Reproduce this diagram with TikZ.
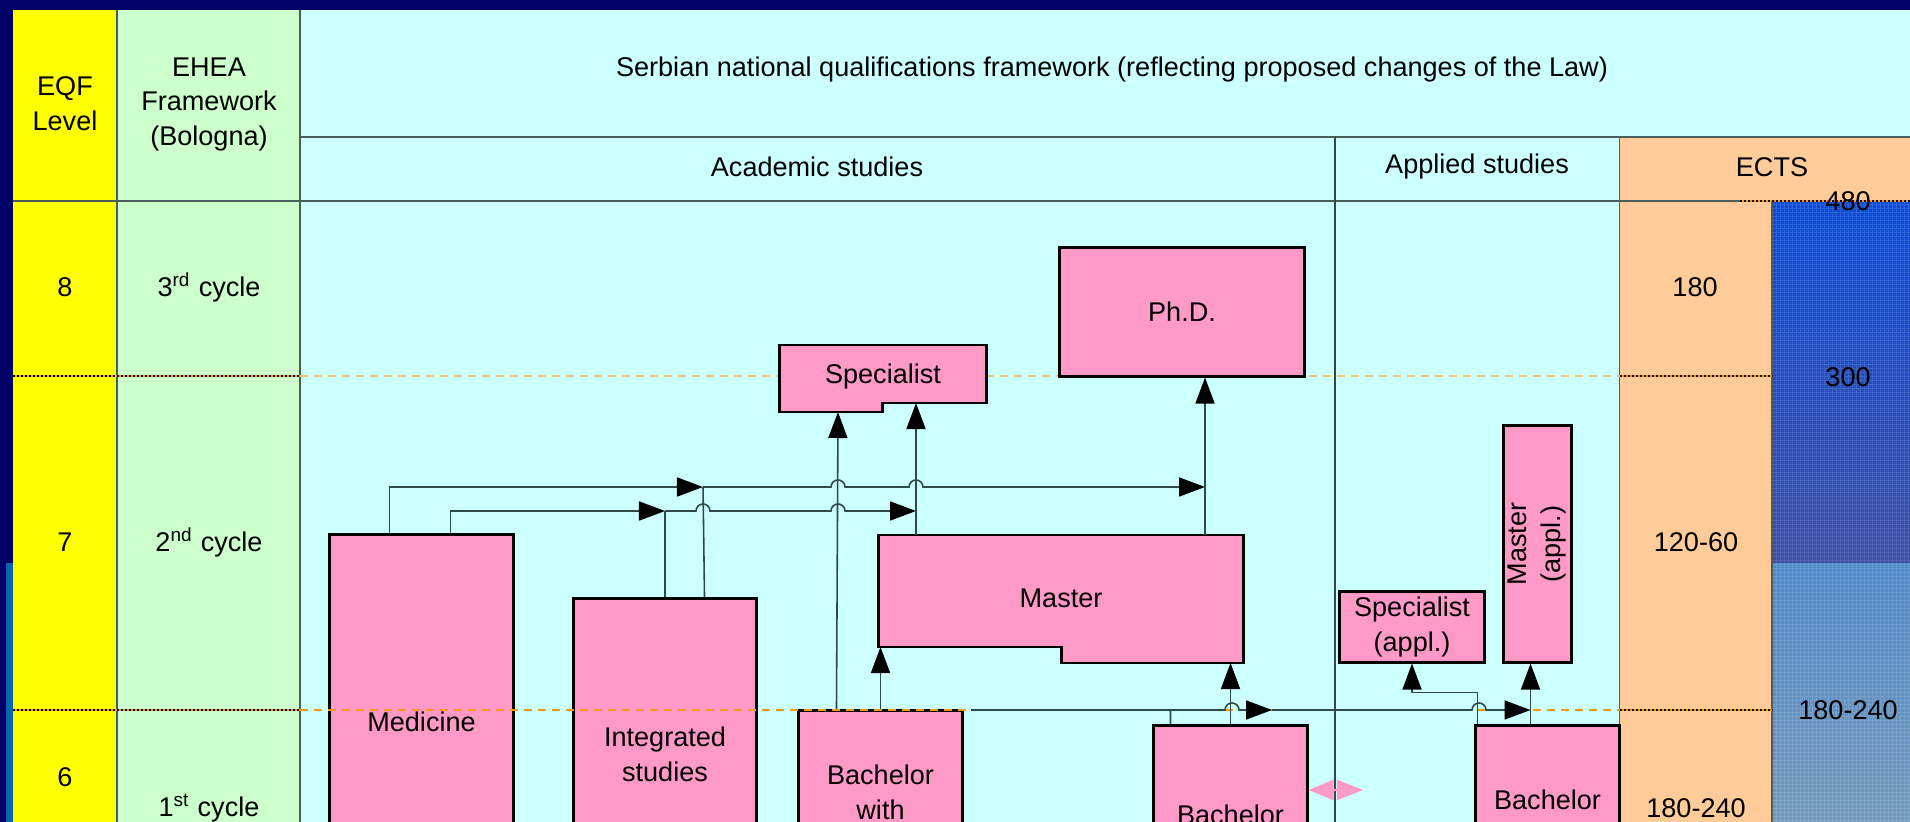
\documentclass[tikz,border=0pt]{standalone}
\usepackage{fontspec}
\setmainfont{Liberation Sans}
\usepackage{tikz}
\usetikzlibrary{arrows.meta}
\definecolor{navy}{HTML}{000066}
\definecolor{stripblue}{HTML}{0A64B4}
\definecolor{eqfyellow}{HTML}{FFFF00}
\definecolor{eheagreen}{HTML}{CCFFCC}
\definecolor{nqfcyan}{HTML}{CCFFFF}
\definecolor{ectsorange}{HTML}{FFCC99}
\definecolor{boxpink}{HTML}{FF99C8}
\definecolor{gridgray}{HTML}{4A5C5C}
\definecolor{linegray}{HTML}{2F4848}
\definecolor{lvlorange}{HTML}{FF9900}
\definecolor{lvlpale}{HTML}{F2C76A}
\definecolor{blueA}{HTML}{0A4CD8}
\definecolor{blueB}{HTML}{3E4EA6}
\definecolor{blueC}{HTML}{4F8ACA}
\definecolor{blueD}{HTML}{7499BC}
\tikzset{
    box/.style={draw=black, line width=0.85pt, fill=boxpink, inner sep=0pt, align=center},
    conn/.style={draw=linegray, line width=0.45pt, >={Triangle[length=0.26cm, width=0.19cm, color=black]}},
    grid/.style={draw=gridgray, line width=0.5pt},
    lvl/.style={dash pattern=on 0.08cm off 0.06cm, line width=0.6pt},
    lvlrule/.style={draw=black, dash pattern=on 0.02cm off 0.02cm, line width=0.4pt},
    txt/.style={align=center, inner sep=0pt},
    pinkarr/.style={draw=boxpink, line width=0.6pt, {Triangle[length=0.25cm, width=0.2cm]}-{Triangle[length=0.26cm, width=0.2cm]}}
}
\begin{document}
\begin{tikzpicture}[x=0.01cm, y=-0.01cm, every node/.style={font=\fontsize{7.7}{9.9}\selectfont}]
    \useasboundingbox (0,0) rectangle (1910,822);
    \clip (0,0) rectangle (1910,822);
    % table background
    \fill[navy] (0,0) rectangle (1910,822);
    \fill[stripblue] (6,563) rectangle (13,822);
    \fill[eqfyellow] (13,10) rectangle (117,822);
    \fill[eheagreen] (117,10) rectangle (300,822);
    \fill[nqfcyan] (300,10) rectangle (1910,137);
    \fill[nqfcyan] (300,137) rectangle (1619.5,822);
    \fill[ectsorange] (1619.5,137) rectangle (1910,822);
    \shade[top color=blueA, bottom color=blueB] (1772,201) rectangle (1910,563);
    \shade[top color=blueC, bottom color=blueD] (1772,563) rectangle (1910,822);
    \draw[white, opacity=0.12, line width=0.2pt, step=0.04cm] (1772,201) grid (1910,822);
    % grid
    \draw[grid] (117,10) -- (117,822);
    \draw[grid] (300,10) -- (300,822);
    \draw[grid] (300,137) -- (1910,137);
    \draw[grid] (13,201) -- (1740,201);
    \draw[grid] (1619.5,137) -- (1619.5,822);
    \draw[grid] (1772,201) -- (1772,822);
    \draw[linegray, line width=0.4pt] (1335,137) -- (1335,822);
    % level lines
    \foreach \y in {376,710} {
        \draw[draw=lvlorange, line width=0.4pt] (13,\y) -- (300,\y);
        \draw[lvlrule] (13,\y) -- (300,\y);
        \draw[draw=lvlorange, line width=0.4pt] (1619.5,\y) -- (1772,\y);
        \draw[lvlrule] (1619.5,\y) -- (1772,\y);
    }
    \draw[draw=lvlorange, line width=0.5pt] (1740,201) -- (1910,201);
    \draw[lvlrule] (1740,201) -- (1910,201);
    \draw[lvl, draw=lvlpale] (300,376) -- (1619.5,376);
    % headers
    \node[txt] (eqf) at (65,103.5) {EQF\\Level};
    \node[txt] (ehea) at (209,104.5) {EHEA\\Framework\\(Bologna)};
    \node (nqf) at (1112,70) {Serbian national qualifications framework (reflecting proposed changes of the Law)};
    \node (acad) at (817,167) {Academic studies};
    \node (appl) at (1477,167) {Applied studies};
    \node (ects) at (1772,167) {ECTS};
    % levels and cycles
    \node (l8) at (65,287) {8};
    \node (l7) at (65,542) {7};
    \node (l6) at (65,777) {6};
    \node (cy3) at (209,287) {3\textsuperscript{rd} cycle};
    \node (cy2) at (209,542) {2\textsuperscript{nd} cycle};
    \node (cy1) at (209,808) {1\textsuperscript{st} cycle};
    % credits
    \node (e8) at (1695,287) {180};
    \node (e7) at (1696,542) {120-60};
    \node (e6) at (1696,808) {180-240};
    \node (t480) at (1848,201) {480};
    \node (t300) at (1848,377) {300};
    \node (t180) at (1848,710) {180-240};
    % qualifications
    \node[box, minimum width=1.83cm, minimum height=3.74cm] (med) at (421.5,722) {Medicine};
    \node[box, minimum width=1.82cm, minimum height=3.11cm] (intg) at (665,754.5) {Integrated\\studies};
    \node[box, minimum width=1.63cm, minimum height=1.63cm] (bwh) at (880.5,792.5) {Bachelor\\with};
    \node[box, minimum width=1.53cm, minimum height=1.78cm] (bac) at (1230.5,815) {Bachelor};
    \node[box, minimum width=2.44cm, minimum height=1.28cm] (phd) at (1182,312) {Ph.D.};
    \node[box, minimum width=1.44cm, minimum height=0.70cm] (spa) at (1412,627) {Specialist\\(appl.)};
    \node[box, rotate=90, minimum width=2.36cm, minimum height=0.68cm] (maa) at (1537,544) {Master\\(appl.)};
    \node[box, minimum width=1.43cm, minimum height=1.48cm] (bap) at (1547.5,800) {Bachelor};
    \draw[box] (779,345) -- (986,345) -- (986,403) -- (882,403) -- (882,412) -- (779,412) -- cycle;
    \node (spc) at (883,377) {Specialist};
    \draw[box] (878,535) -- (1243,535) -- (1243,663) -- (1061,663) -- (1061,647) -- (878,647) -- cycle;
    \node (mst) at (1061,598) {Master};
    \draw[lvl, draw=lvlorange] (300,710) -- (1619.5,710);
    % attachment points
    \coordinate (m1) at ([xshift=0.61cm]med.north west);
    \coordinate (m2) at ([xshift=1.22cm]med.north west);
    \coordinate (i1) at (intg.north);
    \coordinate (i2) at ([xshift=-0.53cm]intg.north east);
    \coordinate (b1) at ([xshift=0.39cm]bwh.north west);
    \coordinate (c1) at ([xshift=0.18cm]bac.north west);
    \coordinate (c2) at ([xshift=0.03cm]bap.north west);
    \coordinate (c3) at ([xshift=0.56cm]bap.north west);
    \coordinate (ra) at (703,487);
    \coordinate (rb) at (665,511);
    \coordinate (p1) at (1205,487);
    \coordinate (s1) at (916,511);
    \coordinate (mt1) at (916,535);
    \coordinate (mt2) at (1205,535);
    \coordinate (spcl) at (838,412);
    \coordinate (spcr) at (916,403);
    \coordinate (mstl) at (880,647);
    \coordinate (mstr) at (1232,663);
    \coordinate (bh) at (971,710);
    \coordinate (q1) at (1272,710);
    \coordinate (pk) at (1363,790);
    % connectors
    \draw[conn,->] (m1) |- (ra);
    \draw[conn,->] (m2) |- (rb);
    \draw[conn] (i2) -- (ra);
    \draw[conn] (i1) -- (rb);
    \draw[conn,->] (ra) -- (831,487) arc[start angle=180, end angle=360, radius=7]
        -- (909,487) arc[start angle=180, end angle=360, radius=7] -- (p1);
    \draw[conn,->] (rb) -- (696,511) arc[start angle=180, end angle=360, radius=7]
        -- (831,511) arc[start angle=180, end angle=360, radius=7] -- (s1);
    \draw[conn,->] (mt2) -- (mt2 |- phd.south);
    \draw[conn,->] (mt1) -- (spcr);
    \draw[conn,->] (b1) -- (spcl);
    \draw[conn,->] (bwh.north) -- (bwh.north |- mstl);
    \draw[conn,->] (bac.north) -- (bac.north |- mstr);
    \draw[conn] (bh) -- (c1 |- bh);
    \draw[conn,->] (c1) |- (1225,710) arc[start angle=180, end angle=360, radius=7] -- (q1);
    \draw[conn,->] (q1) -- (1472,710) arc[start angle=180, end angle=360, radius=7] -- (c3 |- bh);
    \draw[conn,->] (c3) -- (c3 |- maa.west);
    \draw[conn,->] (c2) -- ++(0,-32) -| (spa.south);
    \draw[pinkarr] ([yshift=0.25cm]bac.east) -- (pk);
\end{tikzpicture}
\end{document}
